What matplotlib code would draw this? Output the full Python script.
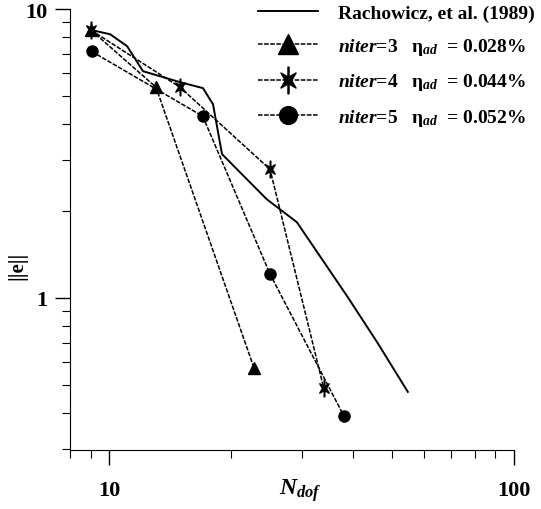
import matplotlib.pyplot as plt
from matplotlib.path import Path
from matplotlib.ticker import LogLocator, NullFormatter, FixedLocator, FixedFormatter
import numpy as np

plt.rcParams['font.family'] = ['Liberation Serif', 'DejaVu Serif']
plt.rcParams['mathtext.fontset'] = 'custom'
plt.rcParams['mathtext.rm'] = 'Liberation Serif'
plt.rcParams['mathtext.it'] = 'Liberation Serif:italic:bold'
plt.rcParams['mathtext.bf'] = 'Liberation Serif:bold'

# Rachowicz, et al. (1989)
rach_x = [9.08, 10.06, 11.08, 12.13, 14.97, 17.06, 18.06, 19.01, 24.5, 29.1, 38.7, 45.9, 54.7]
rach_y = [8.46, 8.19, 7.45, 6.10, 5.59, 5.33, 4.69, 3.15, 2.20, 1.83, 1.016, 0.704, 0.473]

# niter = 3
n3_x = [9.03, 13.06, 22.8]
n3_y = [8.46, 5.37, 0.573]

# niter = 4
n4_x = [9.03, 14.97, 24.98, 33.9]
n4_y = [8.46, 5.37, 2.79, 0.488]

# niter = 5
n5_x = [9.06, 17.04, 24.98, 38.0]
n5_y = [7.14, 4.26, 1.21, 0.391]

labels = ['Rachowicz, et al. (1989)',
          r'$niter$=3   η$_{ad}$  = 0.028%',
          r'$niter$=4   η$_{ad}$  = 0.044%',
          r'$niter$=5   η$_{ad}$  = 0.052%']

# star marker: four-point star with a thin vertical bar through it
ang = np.deg2rad(np.arange(0, 360, 45) + 45)
rad = np.where(np.arange(8) % 2 == 0, 1.0, 0.3)
star_pts = np.column_stack([rad * np.cos(ang), rad * np.sin(ang)])
star = Path(np.vstack([star_pts, star_pts[:1]]), closed=True)
bar = Path([(-0.05, -1.25), (0.05, -1.25), (0.05, 1.25), (-0.05, 1.25), (-0.05, -1.25)], closed=True)
star_marker = Path.make_compound_path(star, bar)

fig = plt.figure(figsize=(5.41, 5.10), dpi=100)
ax = fig.add_axes([0.129, 0.116, 0.821, 0.864])

dash = (0, (3, 1))
ax.plot(rach_x, rach_y, '-', color='black', lw=1.4, label=labels[0])
ax.plot(n3_x, n3_y, linestyle=dash, color='black', lw=1.1, marker='^', ms=9, label=labels[1])
ax.plot(n4_x, n4_y, linestyle=dash, color='black', lw=1.1, marker=star_marker, ms=12, label=labels[2])
ax.plot(n5_x, n5_y, linestyle=dash, color='black', lw=1.1, marker='o', ms=8, label=labels[3])

ax.set_xscale('log')
ax.set_yscale('log')
ax.set_xlim(8, 100)
ax.set_ylim(0.298, 10)

ax.xaxis.set_major_locator(FixedLocator([10, 100]))
ax.xaxis.set_major_formatter(FixedFormatter(['10', '100']))
ax.xaxis.set_minor_locator(LogLocator(base=10, subs=range(2, 10)))
ax.xaxis.set_minor_formatter(NullFormatter())
ax.yaxis.set_major_locator(FixedLocator([1, 10]))
ax.yaxis.set_major_formatter(FixedFormatter(['1', '10']))
ax.yaxis.set_minor_locator(LogLocator(base=10, subs=range(2, 10)))
ax.yaxis.set_minor_formatter(NullFormatter())

ax.tick_params(which='major', length=11, width=1, labelsize=16)
ax.tick_params(axis='x', which='major', pad=11)
ax.tick_params(axis='y', which='major', pad=5)
ax.tick_params(which='minor', length=6, width=0.8)
for lab in ax.get_xticklabels() + ax.get_yticklabels():
    lab.set_fontweight('bold')

ax.spines['top'].set_visible(False)
ax.spines['right'].set_visible(False)

ax.set_xlabel(r'$N_{dof}$', fontsize=17, va='center')
ax.xaxis.set_label_coords(0.518, -0.09)
ax.set_ylabel('||e||', fontsize=15, fontweight='bold', va='center')
ax.yaxis.set_label_coords(-0.117, 0.42)

leg = ax.legend(loc='upper left', bbox_to_anchor=(258 / 541, 1 - 5 / 510),
                bbox_transform=fig.transFigure, frameon=False, borderpad=0,
                borderaxespad=0, fontsize=14, handlelength=3.1, markerscale=1.6,
                labelspacing=0.74, handletextpad=1.0)
for t in leg.get_texts():
    t.set_fontweight('bold')

fig.savefig('out.png', dpi=100)
